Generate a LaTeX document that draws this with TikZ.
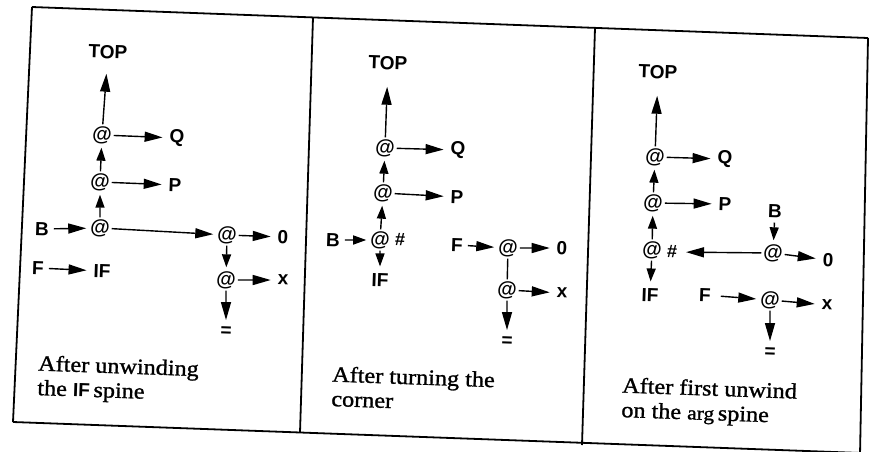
\documentclass[tikz,border=0pt]{standalone}
\usepackage{fontspec}
\setmainfont{Liberation Serif}[FakeBold=1.2,FakeStretch=1.1]
\newfontfamily\labfont{Liberation Sans}
\usetikzlibrary{arrows.meta}
\begin{document}
\begin{tikzpicture}[x=1pt,y=-1pt,
  lab/.style={font=\labfont\bfseries\fontsize{19}{19}\selectfont, inner sep=0pt, outer sep=5pt, rotate=-2},
  app/.style={font=\labfont\bfseries\fontsize{20}{20}\selectfont, inner sep=0pt, outer sep=2pt, rotate=-2},
  hashmark/.style={font=\labfont\bfseries\fontsize{18}{18}\selectfont, inner sep=0pt, outer sep=3pt, rotate=-2},
  captext/.style={font=\fontsize{22}{24.5}\selectfont, inner sep=0pt, anchor=base west, align=left, rotate=-2},
  arr/.style={-{Triangle[length=18pt,width=10pt]}, line width=1.4pt, shorten >=2pt},
  sarr/.style={-{Triangle[length=13pt,width=9pt]}, line width=1.4pt, shorten >=2pt},
  link/.style={line width=1.4pt},
  framel/.style={line width=1.8pt, line join=round}]
\useasboundingbox (0,0) rectangle (873,451);
\fill[white] (0,0) rectangle (873,451);
% frame
\draw[framel] (32,7) -- (868,38);
\draw[framel] (13,422) -- (875,453.5);
\draw[framel] (32,7) -- (13,422);
\draw[framel] (313,17.4) -- (300,432.5);
\draw[framel] (595,28) -- (582,445);
\draw[framel] (868,38) -- (860,455);

% panel 1
\node[lab] (top1) at (108,52) {TOP};
\node[app] (a11) at (102,135) {@};
\node[lab] (q1) at (177,138) {Q};
\node[app] (a12) at (100,182) {@};
\node[lab] (p1) at (175,185) {P};
\node[app] (a13) at (100,228) {@};
\node[lab] (b1) at (42,229) {B};
\node[app] (a14) at (227,235) {@};
\node[lab] (z1) at (283,237) {0};
\node[app] (a15) at (226,280) {@};
\node[lab] (x1) at (283,280) {x};
\node[lab] (e1) at (226,332) {=};
\node[lab] (f1) at (38,268) {F};
\node[lab] (if1) at (102,271) {IF};
\draw[arr, shorten >=10pt] (a11) -- (top1);
\draw[arr] (a11) -- (q1);
\draw[sarr] (a12) -- (a11);
\draw[arr] (a12) -- (p1);
\draw[sarr] (a13) -- (a12);
\draw[arr] (b1) -- (a13);
\draw[arr] (a13) -- (a14);
\draw[sarr] (a14) -- (a15);
\draw[arr] (a14) -- (z1);
\draw[arr] (a15) -- (x1);
\draw[arr] (a15) -- (e1);
\draw[arr] (f1) -- (if1);
\node[captext] (cap1) at (37,395) {After unwinding\\the {\labfont\bfseries\fontsize{19}{19}\selectfont IF}\,spine};

% panel 2
\node[lab] (top2) at (388,63) {TOP};
\node[app] (b21) at (385,148) {@};
\node[lab] (q2) at (458,150) {Q};
\node[app] (b22) at (383,193) {@};
\node[lab] (p2) at (457,197) {P};
\node[app] (b23) at (380,240) {@};
\node[hashmark] (h2) at (400,240) {\#};
\node[lab] (b2) at (333,240) {B};
\node[lab] (if2) at (380,280) {IF};
\node[lab] (f2) at (457,245) {F};
\node[app] (b24) at (508,248) {@};
\node[lab] (z2) at (562,248) {0};
\node[app] (b25) at (507,290) {@};
\node[lab] (x2) at (562,293) {x};
\node[lab] (e2) at (507,342) {=};
\draw[arr, shorten >=12pt] (b21) -- (top2);
\draw[arr] (b21) -- (q2);
\draw[sarr] (b22) -- (b21);
\draw[arr] (b22) -- (p2);
\draw[sarr] (b23) -- (b22);
\draw[sarr] (b2) -- (b23);
\draw[sarr] (b23) -- (if2);
\draw[arr] (f2) -- (b24);
\draw[arr] (b24) -- (z2);
\draw[link] (b24) -- (b25);
\draw[arr] (b25) -- (x2);
\draw[arr] (b25) -- (e2);
\node[captext] (cap2) at (331,406) {After turning the\\corner};

% panel 3
\node[lab] (top3) at (658,72) {TOP};
\node[app] (c1) at (655,157) {@};
\node[lab] (q3) at (725,159) {Q};
\node[app] (c2) at (653,203) {@};
\node[lab] (p3) at (725,204) {P};
\node[app] (c3) at (652,250) {@};
\node[hashmark] (h3) at (672,252) {\#};
\node[lab] (if3) at (650,295) {IF};
\node[lab] (b3) at (775,211) {B};
\node[app] (c4) at (773,253) {@};
\node[lab] (z3) at (828,260) {0};
\node[lab] (f3) at (705,295) {F};
\node[app] (c5) at (770,300) {@};
\node[lab] (x3) at (827,305) {x};
\node[lab] (e3) at (770,353) {=};
\draw[arr, shorten >=12pt] (c1) -- (top3);
\draw[arr] (c1) -- (q3);
\draw[sarr] (c2) -- (c1);
\draw[arr] (c2) -- (p3);
\draw[sarr] (c3) -- (c2);
\draw[sarr] (c3) -- (if3);
\draw[sarr] (b3) -- (c4);
\draw[arr, shorten >=6pt] (c4) -- (h3);
\draw[arr] (c4) -- (z3);
\draw[arr, shorten <=5pt] (f3) -- (c5);
\draw[arr] (c5) -- (x3);
\draw[arr] (c5) -- (e3);
\node[captext] (cap3) at (621,417) {After first unwind\\on the {\fontsize{19.5}{19.5}\selectfont arg}\,spine};
\end{tikzpicture}
\end{document}
